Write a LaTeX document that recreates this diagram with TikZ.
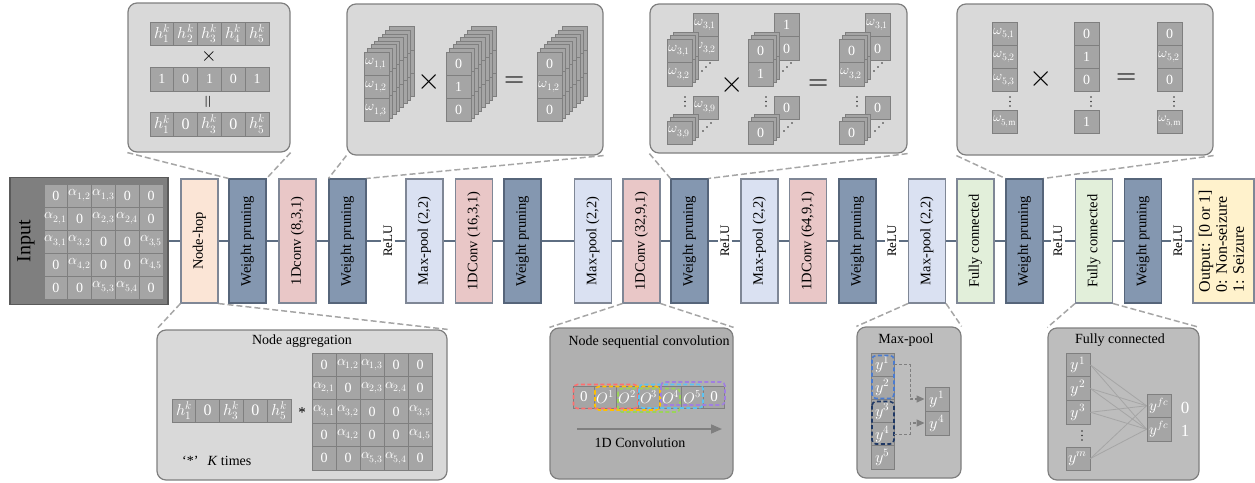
\documentclass[tikz,border=0pt]{standalone}
\usepackage{fontspec}
\usepackage{unicode-math}
\setmainfont{Liberation Serif}
\usepackage{graphicx}
\usetikzlibrary{arrows.meta}
\definecolor{wpc}{HTML}{8497B0}
\definecolor{wpb}{HTML}{56657A}
\definecolor{convc}{HTML}{E9C7C7}
\definecolor{mpc}{HTML}{DAE1F2}
\definecolor{fcc}{HTML}{E2EFDA}
\definecolor{nhc}{HTML}{FBE5D6}
\definecolor{outc}{HTML}{FFF2CC}
\definecolor{boxb}{HTML}{7F8796}
\definecolor{linec}{HTML}{5E6E82}
\definecolor{inc}{HTML}{7F7F7F}
\definecolor{inb}{HTML}{5A5A5A}
\definecolor{cellc}{HTML}{A5A5A5}
\definecolor{cellb}{HTML}{7F7F7F}
\definecolor{calc}{HTML}{D9D9D9}
\definecolor{calb}{HTML}{7F7F7F}
\definecolor{cald}{HTML}{B0B0B0}
\definecolor{calm}{HTML}{BDBDBD}
\definecolor{leadc}{HTML}{A6A6A6}
\definecolor{arrc}{HTML}{7F7F7F}
\definecolor{dotc}{HTML}{333333}
\definecolor{wred}{HTML}{FF6F6F}
\definecolor{wyel}{HTML}{FFC000}
\definecolor{wgrn}{HTML}{9BD35A}
\definecolor{wblu}{HTML}{5BC3F2}
\definecolor{wpur}{HTML}{A07FE0}
\definecolor{mpblue}{HTML}{4A7BD0}
\definecolor{mpnavy}{HTML}{1F3864}
\newcommand{\fsz}[1]{\fontsize{#1}{#1}\selectfont}
\newcommand{\vrt}[1]{\rotatebox{90}{#1}}
\tikzset{
 blk/.style={draw=boxb, line width=1.1pt, minimum width=37pt, minimum height=124pt, inner sep=0pt, font=\fontsize{14.5}{17}\selectfont},
 wp/.style={blk, fill=wpc, draw=wpb},
 cv/.style={blk, fill=convc},
 mpl/.style={blk, fill=mpc},
 fcn/.style={blk, fill=fcc},
 relu/.style={inner sep=2pt, font=\fontsize{13}{15}\selectfont},
 mainline/.style={draw=linec, line width=1.4pt},
 cell/.style={draw=cellb, fill=cellc, line width=0.9pt, inner sep=0pt, text=white},
 cellbox/.style={draw=cellb, fill=cellc, line width=0.9pt},
 callout/.style={draw=calb, fill=calc, rounded corners=9pt, line width=1.2pt, inner sep=0pt},
 lead/.style={draw=leadc, dash pattern=on 6pt off 3pt, line width=1.5pt},
 ttl/.style={inner sep=0pt, font=\fontsize{14}{16}\selectfont},
 op/.style={inner sep=0pt},
 win/.style={dash pattern=on 4pt off 2.5pt, line width=1.6pt, rounded corners=4pt},
 dar/.style={draw=arrc, dash pattern=on 3pt off 2pt, line width=1.3pt, -{Triangle[length=8pt,width=7pt]}},
 fcl/.style={draw=arrc!70, line width=0.8pt},
}
% row of cells: name, x-left, y-top, w, h, font size, list
\newcommand{\cellrow}[7]{%
 \foreach \t [count=\n] in {#7}{%
  \node[cell, minimum width=#4pt, minimum height=#5pt, font=\fsz{#6}] (#1\n) at ({#2+(\n-0.5)*#4},{#3+0.5*#5}) {\t};
 }}
\newcommand{\cellcol}[7]{%
 \foreach \t [count=\n] in {#7}{%
  \node[cell, minimum width=#4pt, minimum height=#5pt, font=\fsz{#6}] (#1\n) at ({#2+0.5*#4},{#3+(\n-0.5)*#5}) {\t};
 }}
% back layers: x, y, nlayers, step, ncells, cell h
\newcommand{\backlayers}[6]{%
 \foreach \k in {#3,...,1}{%
  \foreach \c in {1,...,#5}{%
   \draw[cellbox] ({#1+\k*#4},{#2-\k*#4+(\c-1)*#6}) rectangle ++(25,#6);
  }}}
\newcommand{\matentries}{1/1/0,1/2/{$\alpha_{1,2}$},1/3/{$\alpha_{1,3}$},1/4/0,1/5/0,%
2/1/{$\alpha_{2,1}$},2/2/0,2/3/{$\alpha_{2,3}$},2/4/{$\alpha_{2,4}$},2/5/0,%
3/1/{$\alpha_{3,1}$},3/2/{$\alpha_{3,2}$},3/3/0,3/4/0,3/5/{$\alpha_{3,5}$},%
4/1/0,4/2/{$\alpha_{4,2}$},4/3/0,4/4/0,4/5/{$\alpha_{4,5}$},%
5/1/0,5/2/0,5/3/{$\alpha_{5,3}$},5/4/{$\alpha_{5,4}$},5/5/0}
\newcommand{\amatrix}[6]{%
 \foreach \i/\j/\t in \matentries {%
  \node[cell, #6, minimum width=#4pt, minimum height=#5pt, font=\fsz{14}] (#1-\i-\j) at ({#2+(\j-0.5)*#4},{#3+(\i-0.5)*#5}) {\t};
 }}
\newcommand{\vdotsat}[2]{%
 \foreach \d in {0,1,2}{\fill[dotc] ({#1},{#2+4.5*\d}) circle (0.9pt);}}
% kernel group: prefix, x0, tr1, tr2, f1, f2, bottom tr, bottom front
\newcommand{\kgroup}[8]{%
 \cellcol{#1t}{#2+26}{13}{25}{23.7}{14}{{#3},{#4}}
 \backlayers{#2}{39}{2}{3.2}{2}{23.5}
 \cellcol{#1f}{#2}{39}{25}{23.5}{14}{{#5},{#6}}
 \foreach \d in {0,1,2}{\fill[dotc] ({#2+35+4*\d},{71-4*\d}) circle (0.8pt);}
 \vdotsat{#2+18}{97}
 \node[cell, minimum width=25pt, minimum height=23pt, font=\fsz{14}] (#1b) at ({#2+38.5},107.5) {#7};
 \backlayers{#2}{121}{2}{3.2}{1}{23}
 \node[cell, minimum width=25pt, minimum height=23pt, font=\fsz{14}] (#1c) at ({#2+12.5},132.5) {#8};
 \foreach \d in {0,1,2}{\fill[dotc] ({#2+36+4*\d},{131-4*\d}) circle (0.8pt);}
}
\begin{document}
\begin{tikzpicture}[x=1pt,y=-1pt]
\useasboundingbox (0,0) rectangle (1255,482);

% ---------- main row ----------
\node[draw=inb, fill=inc, line width=1.2pt, minimum width=158pt, minimum height=127pt, inner sep=0pt] (input) at (89,241) {};
\node[font=\fsz{20}, inner sep=0pt] (inlabel) at (26,241) {\vrt{Input}};
\amatrix{in}{44}{184}{23.8}{23}{draw=inc}

\node[blk, fill=nhc] (nh) at (199.5,241) {\vrt{Node-hop}};
\node[wp] (wp1) at (247.5,241) {\vrt{Weight pruning}};
\node[cv] (cv1) at (297.5,241) {\vrt{1Dconv (8,3,1)}};
\node[wp] (wp2) at (347.5,241) {\vrt{Weight pruning}};
\node[relu] (r1) at (388,241) {\vrt{ReLU}};
\node[mpl] (mp1) at (424.5,241) {\vrt{Max-pool (2,2)}};
\node[cv] (cv2) at (474,241) {\vrt{1DConv (16,3,1)}};
\node[wp] (wp3) at (522.5,241) {\vrt{Weight pruning}};
\node[mpl] (mp2) at (593,241) {\vrt{Max-pool (2,2)}};
\node[cv] (cv3) at (641.5,241) {\vrt{1DConv (32,9,1)}};
\node[wp] (wp4) at (689.5,241) {\vrt{Weight pruning}};
\node[relu] (r2) at (725,241) {\vrt{ReLU}};
\node[mpl] (mp3) at (759.5,241) {\vrt{Max-pool (2,2)}};
\node[cv] (cv4) at (808,241) {\vrt{1DConv (64,9,1)}};
\node[wp] (wp5) at (857.5,241) {\vrt{Weight pruning}};
\node[relu] (r3) at (892,241) {\vrt{ReLU}};
\node[mpl] (mp4) at (927,241) {\vrt{Max-pool (2,2)}};
\node[fcn] (fc1) at (975.5,241) {\vrt{Fully connected}};
\node[wp] (wp6) at (1024.5,241) {\vrt{Weight pruning}};
\node[relu] (r4) at (1058,241) {\vrt{ReLU}};
\node[fcn] (fc2) at (1094,241) {\vrt{Fully connected}};
\node[wp] (wp7) at (1143,241) {\vrt{Weight pruning}};
\node[relu] (r5) at (1178,241) {\vrt{ReLU}};
\node[blk, fill=outc, minimum width=61pt, font=\fontsize{16}{17}\selectfont] (out) at (1223.5,241)
  {\vrt{\begin{tabular}{@{}l@{}}Output: [0 or 1]\\0: Non-seizure\\1: Seizure\end{tabular}}};

\draw[mainline] (input) -- (nh) -- (wp1) -- (cv1) -- (wp2) -- (r1) -- (mp1) -- (cv2) -- (wp3) -- (mp2) -- (cv3) -- (wp4) -- (r2) -- (mp3) -- (cv4) -- (wp5) -- (r3) -- (mp4) -- (fc1) -- (wp6) -- (r4) -- (fc2) -- (wp7) -- (r5) -- (out);

% ---------- callout 1 ----------
\node[callout, minimum width=162pt, minimum height=149pt] (c1) at (209,77.5) {};
\cellrow{ca}{150}{22}{23.8}{23}{16}{{$h_1^k$},{$h_2^k$},{$h_3^k$},{$h_4^k$},{$h_5^k$}}
\node[op, font=\fsz{20}] (c1x) at (209.5,57) {$\times$};
\cellrow{cb}{150}{67.5}{23.8}{23.5}{14}{1,0,1,0,1}
\node[op, font=\fsz{17}] (c1e) at (209.5,102) {\vrt{$=$}};
\cellrow{cc}{150}{112.5}{23.8}{23.5}{16}{{$h_1^k$},0,{$h_3^k$},0,{$h_5^k$}}

% ---------- callout 2 ----------
\node[callout, minimum width=256pt, minimum height=151pt] (c2) at (475,79.5) {};
\backlayers{364}{52}{7}{3.6}{3}{23.3}
\cellcol{sa}{364}{52}{25}{23.3}{14}{{$\omega_{1,1}$},{$\omega_{1,2}$},{$\omega_{1,3}$}}
\node[op, font=\fsz{30}] (c2x) at (429,82) {$\times$};
\backlayers{446}{52}{7}{3.6}{3}{23.3}
\cellcol{sb}{446}{52}{25}{23.3}{14}{0,1,0}
\node[op, font=\fsz{26}] (c2e) at (515,82) {$=$};
\backlayers{537}{52}{7}{3.6}{3}{23.3}
\cellcol{sc}{537}{52}{25}{23.3}{14}{0,{$\omega_{1,2}$},0}

% ---------- callout 3 ----------
\node[callout, minimum width=257pt, minimum height=149pt] (c3) at (778.5,78.5) {};
\kgroup{ga}{667}{$\omega_{3,1}$}{$\omega_{3,2}$}{$\omega_{3,1}$}{$\omega_{3,2}$}{$\omega_{3,9}$}{$\omega_{3,9}$}
\node[op, font=\fsz{30}] (c3x) at (732,85) {$\times$};
\kgroup{gb}{748}{1}{0}{0}{1}{0}{0}
\node[op, font=\fsz{26}] (c3e) at (819,85) {$=$};
\kgroup{gc}{839}{$\omega_{3,1}$}{0}{0}{$\omega_{3,2}$}{0}{0}

% ---------- callout 4 ----------
\node[callout, minimum width=256pt, minimum height=151pt] (c4) at (1085,79.5) {};
\cellcol{pa}{992}{22}{25}{23.3}{14}{{$\omega_{5,1}$},{$\omega_{5,2}$},{$\omega_{5,3}$}}
\vdotsat{1010}{97}
\node[cell, minimum width=25pt, minimum height=23pt, font=\fsz{13}] (pam) at (1004.5,121.5) {$\omega_{5,\mathrm{m}}$};
\node[op, font=\fsz{30}] (c4x) at (1041,79) {$\times$};
\cellcol{pb}{1074}{22}{25}{23.3}{14}{0,1,0}
\vdotsat{1091}{97}
\node[cell, minimum width=25pt, minimum height=23pt, font=\fsz{14}] (pbm) at (1086.5,121.5) {1};
\node[op, font=\fsz{26}] (c4e) at (1127,79) {$=$};
\cellcol{pc}{1157}{22}{25}{23.3}{14}{0,{$\omega_{5,2}$},0}
\vdotsat{1174}{97}
\node[cell, minimum width=25pt, minimum height=23pt, font=\fsz{13}] (pcm) at (1169.5,121.5) {$\omega_{5,\mathrm{m}}$};

% ---------- bottom callout: node aggregation ----------
\node[callout, minimum width=290pt, minimum height=150pt] (b1) at (302,405) {};
\node[ttl] (b1t) at (302,341) {Node aggregation};
\cellrow{na}{172}{399}{23.8}{23}{16}{{$h_1^k$},0,{$h_3^k$},0,{$h_5^k$}}
\node[op, font=\fsz{15}] (b1s) at (302,413) {*};
\amatrix{ag}{312}{353}{24}{23.4}{}
\node[ttl, anchor=west] (b1k) at (182,461) {‘*’\hspace{9pt}\textit{K} times};

% ---------- bottom callout: node sequential convolution ----------
\node[callout, fill=cald, minimum width=183pt, minimum height=151pt] (b2) at (641.5,403.5) {};
\node[ttl] (b2t) at (649,342) {Node sequential convolution};
\cellrow{ns}{573}{386}{21.7}{22}{15}{0,{$O^1$},{$O^2$},{$O^3$},{$O^4$},{$O^5$},0}
\draw[win, draw=wred] (573.5,384.5) rectangle (638,408.5);
\draw[win, draw=wyel] (595,386.5) rectangle (660,410);
\draw[win, draw=wgrn] (618,388.5) rectangle (680,412);
\draw[win, draw=wblu] (639,384.5) rectangle (703,408);
\draw[win, draw=wpur] (661,382) rectangle (725,405);
\coordinate (ca1) at (577,429);
\coordinate (ca2) at (722,429);
\draw[draw=arrc, line width=1.6pt, -{Triangle[length=11pt,width=9pt]}] (ca1) -- (ca2);
\node[ttl] (b2l) at (640,443) {1D Convolution};

% ---------- bottom callout: max-pool ----------
\node[callout, fill=calm, minimum width=104pt, minimum height=151pt] (b3) at (909,402.5) {};
\node[ttl] (b3t) at (906,340) {Max-pool};
\cellcol{ma}{871}{353}{23}{23.2}{16}{{$y^1$},{$y^2$},{$y^3$},{$y^4$},{$y^5$}}
\draw[win, draw=mpblue] (872,355.5) rectangle (894,398.5);
\draw[win, draw=mpnavy] (872,401.5) rectangle (894,444);
\cellcol{mb}{925}{387}{24}{24}{16}{{$y^1$},{$y^4$}}
\draw[dar] (ma1.east) -- ++(16,0) |- (mb1.west);
\draw[dar] (ma4.east) -- ++(16,0) |- (mb2.west);

% ---------- bottom callout: fully connected ----------
\node[callout, fill=calm, minimum width=151pt, minimum height=152pt] (b4) at (1123.5,404) {};
\node[ttl] (b4t) at (1120,340) {Fully connected};
\cellcol{fa}{1066}{353}{24}{23.7}{16}{{$y^1$},{$y^2$},{$y^3$}}
\vdotsat{1082}{431}
\node[cell, minimum width=24pt, minimum height=23pt, font=\fsz{16}] (fam) at (1078,458.5) {$y^m$};
\cellcol{fb}{1147}{394}{24}{23.5}{15}{{$y^{fc}$},{$y^{fc}$}}
\foreach \a in {fa1,fa2,fa3,fam}{\foreach \b in {fb1,fb2}{\draw[fcl] (\a.east) -- (\b.west);}}
\node[op, text=white, font=\fsz{17}] (fbl0) at (1185,408) {0};
\node[op, text=white, font=\fsz{17}] (fbl1) at (1185,431) {1};

% ---------- leader lines ----------
\draw[lead] (c1.south west) -- (wp1.north west);
\draw[lead] (c1.south east) -- (wp1.north east);
\draw[lead] (c2.south west) -- (wp2.north west);
\draw[lead] (c2.south east) -- (wp2.north east);
\draw[lead] (c3.south west) -- (wp4.north west);
\draw[lead] (c3.south east) -- (wp4.north east);
\draw[lead] (c4.south west) -- (wp6.north west);
\draw[lead] (c4.south east) -- (wp6.north east);
\draw[lead] (nh.south west) -- (b1.north west);
\draw[lead] (nh.south east) -- (b1.north east);
\draw[lead] (cv3.south west) -- (b2.north west);
\draw[lead] (cv3.south east) -- (b2.north east);
\draw[lead] (mp4.south west) -- (b3.north west);
\draw[lead] (mp4.south east) -- (b3.north east);
\draw[lead] (fc2.south west) -- (b4.north west);
\draw[lead] (fc2.south east) -- (b4.north east);
\end{tikzpicture}
\end{document}
